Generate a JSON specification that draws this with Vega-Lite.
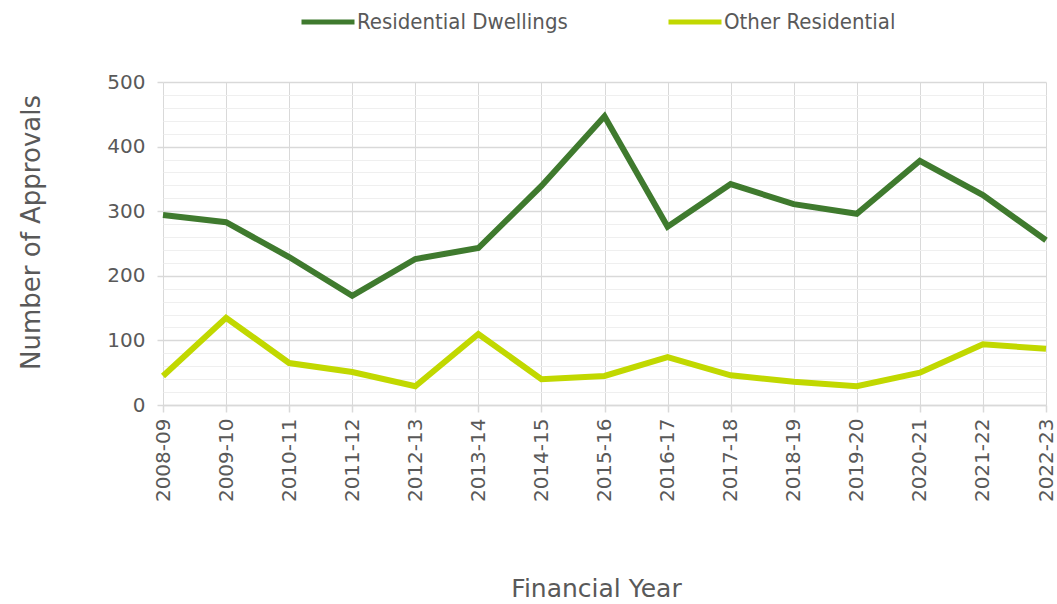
{
  "$schema": "https://vega.github.io/schema/vega-lite/v6.json",
  "width": 883,
  "height": 323,
  "autosize": {"type": "none"},
  "padding": {"left": 163, "top": 82, "right": 11, "bottom": 199},
  "background": "white",
  "config": {"view": {"stroke": null}},
  "data": {
    "values": [
      {"year": "2008-09", "series": "Residential Dwellings", "value": 294},
      {"year": "2009-10", "series": "Residential Dwellings", "value": 283},
      {"year": "2010-11", "series": "Residential Dwellings", "value": 229},
      {"year": "2011-12", "series": "Residential Dwellings", "value": 169},
      {"year": "2012-13", "series": "Residential Dwellings", "value": 226},
      {"year": "2013-14", "series": "Residential Dwellings", "value": 243},
      {"year": "2014-15", "series": "Residential Dwellings", "value": 339},
      {"year": "2015-16", "series": "Residential Dwellings", "value": 447},
      {"year": "2016-17", "series": "Residential Dwellings", "value": 276},
      {"year": "2017-18", "series": "Residential Dwellings", "value": 342},
      {"year": "2018-19", "series": "Residential Dwellings", "value": 311},
      {"year": "2019-20", "series": "Residential Dwellings", "value": 296},
      {"year": "2020-21", "series": "Residential Dwellings", "value": 378},
      {"year": "2021-22", "series": "Residential Dwellings", "value": 325},
      {"year": "2022-23", "series": "Residential Dwellings", "value": 255},
      {"year": "2008-09", "series": "Other Residential", "value": 45},
      {"year": "2009-10", "series": "Other Residential", "value": 135},
      {"year": "2010-11", "series": "Other Residential", "value": 65},
      {"year": "2011-12", "series": "Other Residential", "value": 51},
      {"year": "2012-13", "series": "Other Residential", "value": 29},
      {"year": "2013-14", "series": "Other Residential", "value": 110},
      {"year": "2014-15", "series": "Other Residential", "value": 40},
      {"year": "2015-16", "series": "Other Residential", "value": 45},
      {"year": "2016-17", "series": "Other Residential", "value": 74},
      {"year": "2017-18", "series": "Other Residential", "value": 46},
      {"year": "2018-19", "series": "Other Residential", "value": 36},
      {"year": "2019-20", "series": "Other Residential", "value": 29},
      {"year": "2020-21", "series": "Other Residential", "value": 50},
      {"year": "2021-22", "series": "Other Residential", "value": 94},
      {"year": "2022-23", "series": "Other Residential", "value": 87}
    ]
  },
  "mark": {"type": "line", "strokeWidth": 6, "strokeJoin": "miter", "strokeCap": "butt"},
  "encoding": {
    "x": {
      "field": "year",
      "type": "ordinal",
      "scale": {"type": "point", "padding": 0},
      "axis": {
        "title": "Financial Year",
        "titleFont": "DejaVu Sans",
        "titleFontSize": 25,
        "titleFontWeight": "normal",
        "titleColor": "#595959",
        "titleX": 433,
        "titleY": 191,
        "titleAlign": "center",
        "titleBaseline": "alphabetic",
        "labelAngle": -90,
        "labelFont": "DejaVu Sans",
        "labelFontSize": 20,
        "labelColor": "#595959",
        "labelPadding": 6,
        "grid": true,
        "gridColor": "#d9d9d9",
        "gridWidth": 1,
        "domainColor": "#d9d9d9",
        "domainWidth": 1.5,
        "tickColor": "#d9d9d9",
        "tickSize": 7,
        "tickWidth": 1.5
      }
    },
    "y": {
      "field": "value",
      "type": "quantitative",
      "scale": {"domain": [0, 500], "nice": false},
      "axis": {
        "title": "Number of Approvals",
        "titleFont": "DejaVu Sans",
        "titleFontSize": 26,
        "titleFontWeight": "normal",
        "titleColor": "#595959",
        "titleX": -124,
        "titleY": 150,
        "titleAlign": "center",
        "titleBaseline": "alphabetic",
        "values": [0, 20, 40, 60, 80, 100, 120, 140, 160, 180, 200, 220, 240, 260, 280, 300, 320, 340, 360, 380, 400, 420, 440, 460, 480, 500],
        "labelExpr": "datum.value % 100 === 0 ? datum.label : ''",
        "labelFont": "DejaVu Sans",
        "labelFontSize": 20,
        "labelColor": "#595959",
        "labelPadding": 12,
        "domain": false,
        "grid": true,
        "gridColor": {"condition": {"test": "datum.value % 100 === 0", "value": "#d9d9d9"}, "value": "#efefef"},
        "gridWidth": {"condition": {"test": "datum.value % 100 === 0", "value": 1.5}, "value": 1},
        "tickColor": "#d9d9d9",
        "tickOpacity": {"condition": {"test": "datum.value % 100 === 0", "value": 1}, "value": 0},
        "tickSize": 6,
        "tickWidth": 1.5
      }
    },
    "color": {
      "field": "series",
      "type": "nominal",
      "scale": {"domain": ["Residential Dwellings", "Other Residential"], "range": ["#3f7a2e", "#c1d800"]},
      "legend": {
        "title": null,
        "orient": "none",
        "direction": "horizontal",
        "legendX": 136,
        "legendY": -89,
        "symbolType": "stroke",
        "symbolSize": 2809,
        "symbolStrokeWidth": 5,
        "labelFont": "DejaVu Sans Condensed",
        "labelFontSize": 22,
        "labelLimit": 400,
        "labelColor": "#595959",
        "labelOffset": 0,
        "columnPadding": 90
      }
    }
  }
}
